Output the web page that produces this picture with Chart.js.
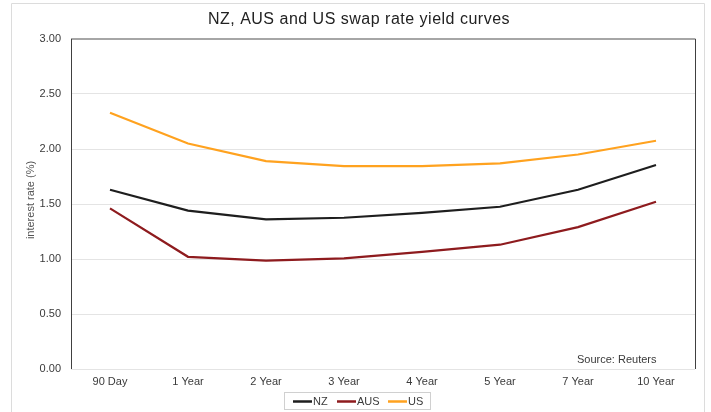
<!DOCTYPE html>
<html>
<head>
<meta charset="utf-8">
<title>NZ, AUS and US swap rate yield curves</title>
<script src="https://cdn.jsdelivr.net/npm/chart.js@4/dist/chart.umd.min.js"></script>
<style>
  html, body { margin: 0; padding: 0; background: #ffffff; }
  #wrap { width: 711px; height: 412px; }
</style>
</head>
<body>
<div id="wrap"><canvas id="chart" width="711" height="412"></canvas></div>
<script>
// Swap rate tenors
const tenors = ["90 Day", "1 Year", "2 Year", "3 Year", "4 Year", "5 Year", "7 Year", "10 Year"];

// Swap rates (%) by tenor
const nzRates  = [1.63, 1.44, 1.36, 1.375, 1.42, 1.475, 1.63, 1.855];
const ausRates = [1.46, 1.02, 0.985, 1.005, 1.065, 1.13, 1.29, 1.52];
const usRates  = [2.33, 2.05, 1.89, 1.845, 1.845, 1.87, 1.95, 2.075];

// Y axis range and tick spacing
const yMin = 0;
const yMax = 3;
const yStep = 0.5;

const FONT = "'Liberation Sans', Arial, sans-serif";
const TEXT = "#3a3a3a";

// Frame, titles, source note and legend
const decorations = {
  id: "decorations",
  beforeDatasetsDraw(chart) {
    const ctx = chart.ctx;
    const a = chart.chartArea;
    ctx.save();
    // outer frame
    ctx.strokeStyle = "#dcdcdc";
    ctx.lineWidth = 1;
    ctx.beginPath();
    ctx.moveTo(11.5, 412);
    ctx.lineTo(11.5, 3.5);
    ctx.lineTo(704.5, 3.5);
    ctx.lineTo(704.5, 412);
    ctx.stroke();
    // plot area top edge
    ctx.strokeStyle = "#a6a6a6";
    ctx.lineWidth = 2;
    ctx.beginPath();
    ctx.moveTo(a.left, a.top);
    ctx.lineTo(a.right + 0.5, a.top);
    ctx.stroke();
    // plot area side edges
    ctx.strokeStyle = "#404040";
    ctx.lineWidth = 1;
    ctx.beginPath();
    ctx.moveTo(Math.round(a.left) + 0.5, a.top);
    ctx.lineTo(Math.round(a.left) + 0.5, a.bottom);
    ctx.moveTo(Math.round(a.right) + 0.5, a.top);
    ctx.lineTo(Math.round(a.right) + 0.5, a.bottom);
    ctx.stroke();
    ctx.restore();
  },
  afterDraw(chart) {
    const ctx = chart.ctx;
    ctx.save();
    // chart title
    ctx.fillStyle = "#222222";
    ctx.font = "16px " + FONT;
    ctx.letterSpacing = "0.5px";
    ctx.textAlign = "center";
    ctx.textBaseline = "middle";
    ctx.fillText("NZ, AUS and US swap rate yield curves", 359, 20);
    ctx.letterSpacing = "0px";
    // y axis title
    ctx.save();
    ctx.translate(31, 200);
    ctx.rotate(-Math.PI / 2);
    ctx.fillStyle = "#555555";
    ctx.font = "11px " + FONT;
    ctx.fillText("interest rate (%)", 0, 0);
    ctx.restore();
    // source note
    ctx.fillStyle = TEXT;
    ctx.font = "11px " + FONT;
    ctx.textAlign = "left";
    ctx.fillText("Source: Reuters", 577, 360);
    // legend
    ctx.strokeStyle = "#d0d0d0";
    ctx.lineWidth = 1;
    ctx.strokeRect(284.5, 392.5, 146, 17);
    const starts = [293, 337, 388];
    const ly = 401.5;
    chart.data.datasets.forEach((ds, i) => {
      const x0 = starts[i];
      ctx.strokeStyle = ds.borderColor;
      ctx.lineWidth = 2.5;
      ctx.beginPath();
      ctx.moveTo(x0, ly);
      ctx.lineTo(x0 + 19, ly);
      ctx.stroke();
      ctx.fillStyle = TEXT;
      ctx.textAlign = "left";
      ctx.textBaseline = "middle";
      ctx.fillText(ds.label, x0 + 20, ly);
    });
    ctx.restore();
  }
};

new Chart(document.getElementById("chart"), {
  type: "line",
  data: {
    labels: tenors,
    datasets: [
      { label: "NZ",  data: nzRates,  borderColor: "#1e1e1e", backgroundColor: "#1e1e1e" },
      { label: "AUS", data: ausRates, borderColor: "#8e1b1e", backgroundColor: "#8e1b1e" },
      { label: "US",  data: usRates,  borderColor: "#ffa21f", backgroundColor: "#ffa21f" }
    ]
  },
  options: {
    responsive: false,
    animation: false,
    devicePixelRatio: 1,
    layout: { padding: { top: 39, right: 16, bottom: 0, left: 0 } },
    elements: {
      line: { borderWidth: 2.2, tension: 0, fill: false },
      point: { radius: 0, hoverRadius: 0 }
    },
    plugins: {
      legend: { display: false },
      title: { display: false },
      tooltip: { enabled: false }
    },
    scales: {
      x: {
        type: "category",
        offset: true,
        grid: { display: false, drawTicks: false },
        border: { display: false },
        ticks: { color: TEXT, font: { family: FONT, size: 11 }, padding: 6, maxRotation: 0, autoSkip: false },
        afterFit(scale) { scale.height = 43; }
      },
      y: {
        min: yMin,
        max: yMax,
        grid: { color: "#e4e4e4", lineWidth: 1, drawTicks: false },
        border: { display: false },
        ticks: {
          stepSize: yStep,
          color: TEXT,
          font: { family: FONT, size: 11 },
          padding: 10,
          callback: (v) => Number(v).toFixed(2)
        },
        afterFit(scale) { scale.width = 71; }
      }
    }
  },
  plugins: [decorations]
});
</script>
</body>
</html>
